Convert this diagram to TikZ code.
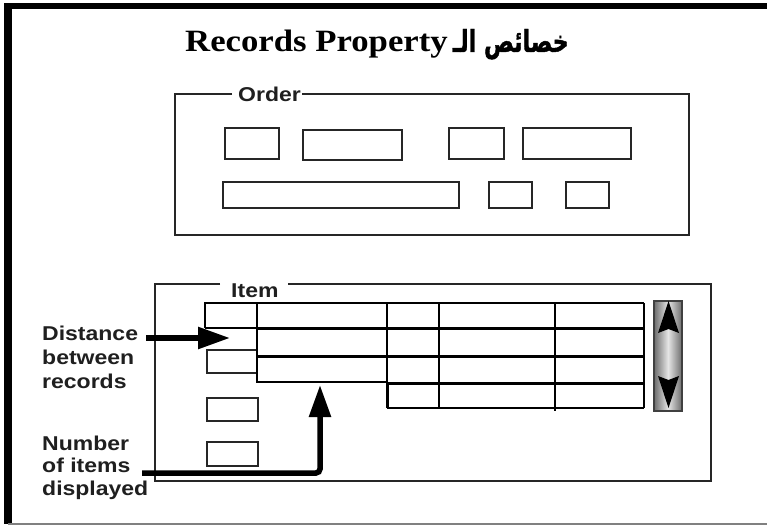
\documentclass[tikz,border=0pt]{standalone}
\usepackage{fontspec}
\setmainfont{Liberation Serif}
\setsansfont{Liberation Sans}
\newfontfamily\arabicfont[Script=Arabic, BoldFeatures={FakeBold=1.5}]{DejaVu Sans}
\TeXXeTstate=1
\usetikzlibrary{arrows.meta}
\newcommand\stretchx[1]{\scalebox{1.15}[1]{#1}}

\begin{document}
\begin{tikzpicture}[x=1pt,y=-1pt,
  frame/.style={draw=black!85, line width=1.4pt},
  field/.style={draw=black!85, line width=1.6pt},
  gridthin/.style={draw=black, line width=1.3pt},
  gridthick/.style={draw=black, line width=3pt},
  caption/.style={font=\sffamily\bfseries\fontsize{20}{24}\selectfont, text=black!88, inner sep=0pt},
  pointer/.style={draw=black, line width=5.5pt, -{Triangle[length=32pt,width=21pt]}},
]
\useasboundingbox (0,0) rectangle (767,526);
\fill[white] (0,0) rectangle (767,526);

% page frame
\draw[line width=6pt] (4,6.3) -- (767,6.3);
\draw[line width=8pt] (8,3.3) -- (8,524);
\draw[gray, line width=1.5pt] (8,524) -- (767,524);

% heading
\node[anchor=base west, inner sep=0pt] (title) at (185,52)
  {\fontsize{31}{36}\selectfont\bfseries\scalebox{1.12}[1]{Records Property}\hspace{5pt}%
   \resizebox{116pt}{23pt}{\arabicfont\bfseries\beginR خصائص الـ\endR}};

% ---- Order block ----
\draw[frame] (232,94) -| (175,235) -| (689,94) -- (302,94);
\node[caption, anchor=base west] (order) at (238,102) {\stretchx{Order}};
\draw[field] (225,128) rectangle (279,159);
\draw[field] (303,130) rectangle (402,160);
\draw[field] (449,128) rectangle (504,159);
\draw[field] (523,128) rectangle (631,159);
\draw[field] (223,182) rectangle (459,208);
\draw[field] (489,182) rectangle (532,208);
\draw[field] (566,182) rectangle (609,208);

% ---- Item block ----
\draw[frame] (220,284) -| (155,481) -| (711,284) -- (288,284);
\node[caption, anchor=base west] (item) at (231,297) {\stretchx{Item}};

% left column of single fields
\draw[gridthin] (205,328) -- (205,303) -- (644,303);
\draw[gridthin] (205,328) -- (257,328);
\draw[field] (207,350) rectangle (257,373);
\draw[field] (207,398) rectangle (258,421);
\draw[field] (207,442) rectangle (258,466);

% multi-record grid
\draw[gridthin] (257,303) -- (257,382) -- (387,382);
\draw[gridthick] (257,328) -- (644,328);
\draw[gridthick] (257,356) -- (644,356);
\draw[gridthick] (387,383) -- (644,383);
\draw[gridthin] (387,303) -- (387,383);
\draw[gridthick] (387,382) -- (387,408);
\draw[gridthin] (387,408) -- (644,408);
\draw[gridthin] (439,303) -- (439,408);
\draw[gridthin] (555,303) -- (555,411);
\draw[gridthin] (644,303) -- (644,408);

% scroll bar
\shade[left color=gray!85!black, right color=gray!85!black, middle color=gray!20]
  (654,301) rectangle (682,411);
\draw[black!75, line width=1.2pt] (654,301) rectangle (682,411);
\fill[black] (668.5,301) -- (679,333) -- (668.5,329) -- (658,333) -- cycle;
\fill[black] (658,376) -- (668.5,380) -- (679,376) -- (668.5,408) -- cycle;

% callouts
\node[caption, anchor=base west] (dist) at (42,340)
  {\stretchx{\begin{tabular}[t]{@{}l@{}}Distance\\between\\records\end{tabular}}};
\node[caption, anchor=base west] (num) at (42,450)
  {\fontsize{20}{22.5}\selectfont\stretchx{\begin{tabular}[t]{@{}l@{}}Number\\of items\\displayed\end{tabular}}};

\coordinate (gap-tip) at (230,338);
\coordinate (num-from) at (142,473);
\coordinate (rows-end) at (320,385);
\draw[pointer] ([shift={(8,-2)}]dist.base east) -- (gap-tip);
\draw[pointer, rounded corners=4pt] (num-from) -| (rows-end);
\end{tikzpicture}
\end{document}
